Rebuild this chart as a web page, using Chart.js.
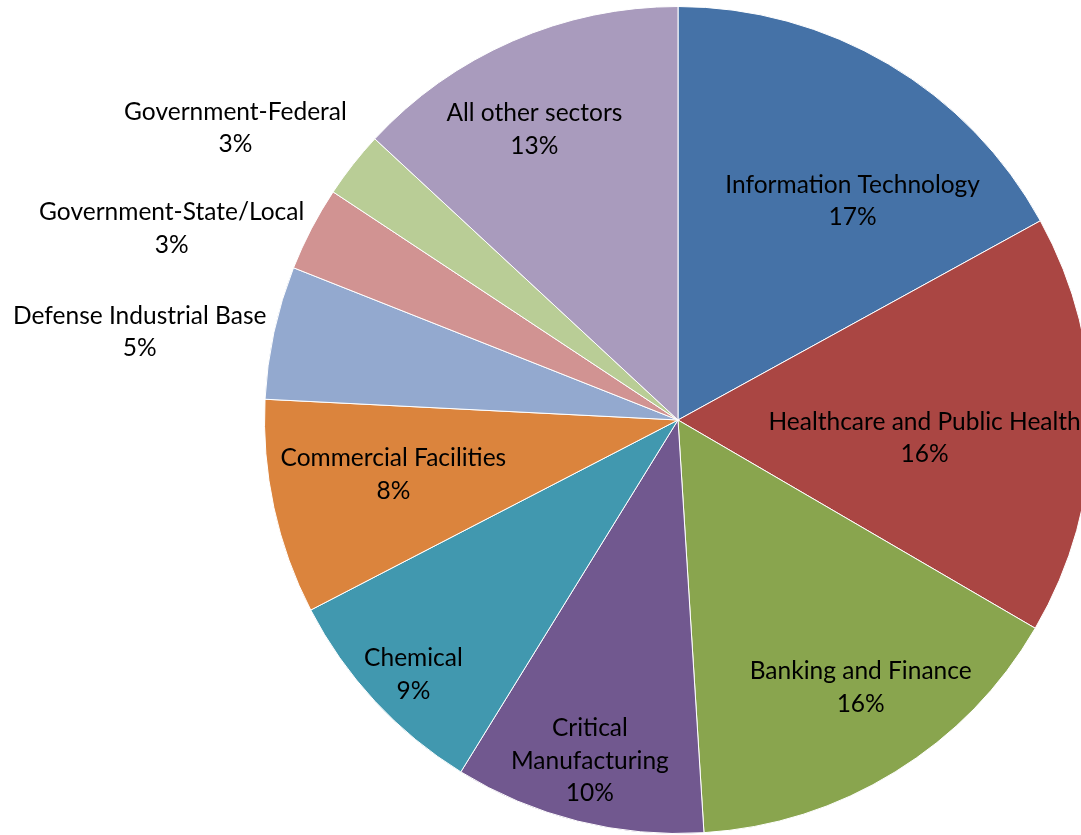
<!DOCTYPE html>
<html>
<head>
<meta charset="utf-8">
<title>Incidents by Critical Infrastructure Sector</title>
<script src="https://cdn.jsdelivr.net/npm/chart.js@4/dist/chart.umd.min.js"></script>
<style>
  html, body { margin: 0; padding: 0; background: #ffffff; overflow: hidden; }
  #wrap { width: 1081px; height: 835px; overflow: hidden; position: relative; }
  #pie { display: block; }
</style>
</head>
<body>
<div id="wrap"><canvas id="pie" width="1092" height="835"></canvas></div>
<script>
// Sector names, clockwise from 12 o'clock
const sectors = [
  'Information Technology',
  'Healthcare and Public Health',
  'Banking and Finance',
  'Critical Manufacturing',
  'Chemical',
  'Commercial Facilities',
  'Defense Industrial Base',
  'Government-State/Local',
  'Government-Federal',
  'All other sectors'
];

// Share of incidents per sector (percent)
const shares = [17.0, 16.4, 15.6, 9.8, 8.6, 8.4, 5.2, 3.3, 2.6, 13.1];

// Label text lines per sector (the percentage line is added from the data)
const labelLines = [
  ['Information Technology'],
  ['Healthcare and Public Health'],
  ['Banking and Finance'],
  ['Critical', 'Manufacturing'],
  ['Chemical'],
  ['Commercial Facilities'],
  ['Defense Industrial Base'],
  ['Government-State/Local'],
  ['Government-Federal'],
  ['All other sectors']
];

const sliceColors = [
  '#4572A7', '#AA4643', '#89A54E', '#71588F', '#4198AF',
  '#DB843D', '#93A9CF', '#D19392', '#B9CD96', '#A99BBD'
];

// Label anchors in polar form relative to the pie centre:
// [radius as a fraction of the outer radius, angle in degrees clockwise from top]
const labelAnchors = [
  [0.677, 38.6], [0.598, 94.2], [0.784, 145.7], [0.851, 194.5], [0.888, 226.1],
  [0.701, 259.1], [1.319, 279.3], [1.309, 290.7], [1.282, 303.4], [0.784, 333.7]
];

const sliceLabels = {
  id: 'sliceLabels',
  afterDatasetsDraw(chart) {
    const ctx = chart.ctx;
    const meta = chart.getDatasetMeta(0);
    const data = chart.data.datasets[0].data;
    const total = data.reduce((a, b) => a + b, 0);
    const lineH = 32.5;
    ctx.save();
    ctx.font = '24.5px Lato, "Open Sans", sans-serif';
    ctx.fillStyle = '#000000';
    ctx.textAlign = 'center';
    ctx.textBaseline = 'middle';
    meta.data.forEach((arc, i) => {
      const { x, y, outerRadius } = arc.getProps(['x', 'y', 'outerRadius'], true);
      const [rf, deg] = labelAnchors[i];
      const a = deg * Math.PI / 180;
      const cx = x + Math.sin(a) * outerRadius * rf;
      const cy = y - Math.cos(a) * outerRadius * rf;
      const lines = labelLines[i].concat([Math.round(data[i] / total * 100) + '%']);
      const top = cy - (lines.length - 1) * lineH / 2;
      lines.forEach((t, k) => ctx.fillText(t, cx, top + k * lineH));
    });
    ctx.restore();
  }
};

new Chart(document.getElementById('pie'), {
  type: 'pie',
  data: {
    labels: sectors,
    datasets: [{
      data: shares,
      backgroundColor: sliceColors,
      borderColor: '#ffffff',
      borderWidth: 1,
      hoverOffset: 0
    }]
  },
  options: {
    responsive: false,
    animation: false,
    events: [],
    rotation: 0,
    layout: { padding: { left: 264, top: 6, right: 0, bottom: 1 } },
    plugins: {
      legend: { display: false },
      tooltip: { enabled: false }
    }
  },
  plugins: [sliceLabels]
});
</script>
</body>
</html>
